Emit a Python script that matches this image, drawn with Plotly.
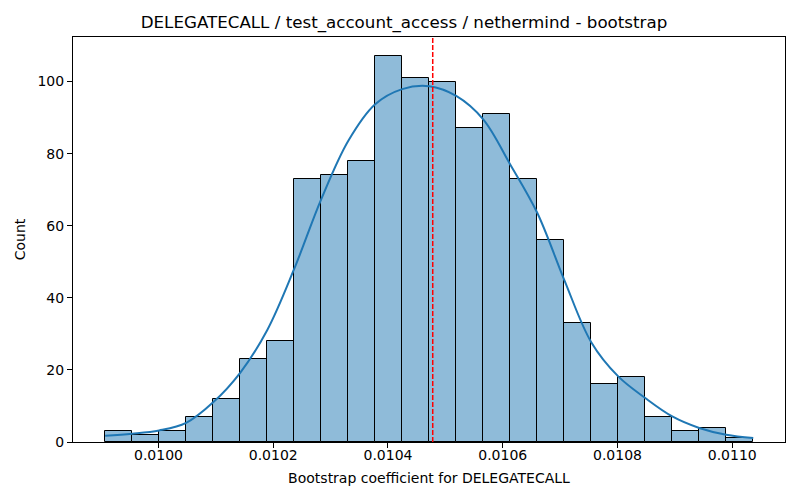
import plotly.graph_objects as go

# Histogram data
bin_start = 0.009907
bin_width = 0.00004707
counts = [3, 2, 3, 7, 12, 23, 28, 73, 74, 78, 107, 101,
          100, 87, 91, 73, 56, 33, 16, 18, 7, 3, 4, 1]

# KDE curve values at each bin edge (scaled to counts)
kde_vals = [1.75, 2.3, 3.2, 5.3, 11.0, 19.2, 31.0, 48.0, 67.3, 83.5, 93.7, 97.9,
            98.7, 96.0, 89.5, 77.0, 63.6, 45.0, 27.7, 18.2, 12.2, 7.1, 3.9, 2.0, 1.1]

mean_value = 0.010478
x_ticks = [0.0100, 0.0102, 0.0104, 0.0106, 0.0108, 0.0110]
y_ticks = [0, 20, 40, 60, 80, 100]

title = "DELEGATECALL / test_account_access / nethermind - bootstrap"
x_label = "Bootstrap coefficient for DELEGATECALL"
y_label = "Count"

lefts = [bin_start + i * bin_width for i in range(len(counts))]
edges = [bin_start + i * bin_width for i in range(len(kde_vals))]

fig = go.Figure()

fig.add_trace(go.Bar(
    x=lefts,
    y=counts,
    width=bin_width,
    offset=0,
    marker=dict(color="rgba(31,119,180,0.5)", line=dict(color="black", width=1)),
    showlegend=False,
    hoverinfo="x+y",
))

fig.add_trace(go.Scatter(
    x=edges,
    y=kde_vals,
    mode="lines",
    line=dict(color="#1f77b4", width=2, shape="spline", smoothing=1.0),
    showlegend=False,
))

# mean line
fig.add_shape(type="line", xref="x", yref="paper",
              x0=mean_value, x1=mean_value, y0=0, y1=1,
              line=dict(color="red", width=1.5, dash="5px,2px"))

# page body has an 8px margin, so the figure is a bit smaller and margins shifted
fig.update_layout(
    width=792, height=492,
    margin=dict(l=63, r=15, t=29, b=58),
    plot_bgcolor="white",
    paper_bgcolor="white",
    font=dict(family="DejaVu Sans", size=14, color="black"),
    bargap=0,
    title=dict(text=title, x=0.5, xanchor="center", y=0.9715, yanchor="middle",
               font=dict(size=16.7, color="black")),
)

fig.update_xaxes(
    range=[0.009851, 0.011092],
    tickvals=x_ticks,
    tickformat=".4f",
    ticks="outside", ticklen=5, tickcolor="black",
    ticklabelstandoff=-5,
    showline=True, linecolor="black", linewidth=1, mirror=True,
    showgrid=False, zeroline=False,
    title=dict(text=x_label, standoff=11, font=dict(size=14)),
)
fig.update_yaxes(
    range=[0, 112.35],
    tickvals=y_ticks,
    ticks="outside", ticklen=5, tickcolor="black",
    showline=True, linecolor="black", linewidth=1, mirror=True,
    showgrid=False, zeroline=False,
    title=dict(text=y_label, standoff=8, font=dict(size=14)),
)

fig.write_html("out.html")
